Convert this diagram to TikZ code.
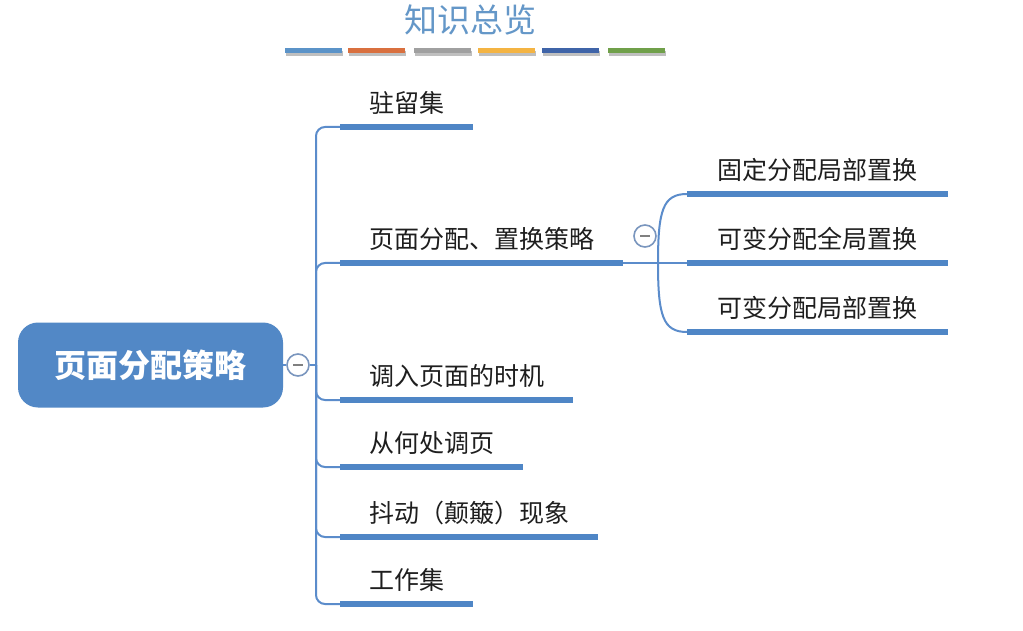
\documentclass[tikz,border=0pt]{standalone}
\usepackage{fontspec}
\setmainfont{Noto Sans CJK SC}
\usetikzlibrary{shadows}
\definecolor{lineblue}{HTML}{5B8CCB}
\definecolor{barblue}{HTML}{4F86C6}
\definecolor{rootblue}{HTML}{5288C6}
\definecolor{titleblue}{HTML}{6497C8}
\definecolor{cbBlue}{HTML}{5B93C8}
\definecolor{cbOrange}{HTML}{D9703F}
\definecolor{cbGray}{HTML}{A0A0A0}
\definecolor{cbYellow}{HTML}{F4B443}
\definecolor{cbDark}{HTML}{3F64A8}
\definecolor{cbGreen}{HTML}{70A04A}
\definecolor{togline}{HTML}{7A96BE}
\definecolor{txtcol}{HTML}{1E1E1E}
\tikzset{
  txt/.style={font=\fontsize{25}{30}\selectfont, text=txtcol, anchor=south west,
    inner xsep=29pt, inner ysep=14pt, text height=22pt, text depth=0pt},
  bar/.style={draw=barblue, line width=6.5pt},
  conn/.style={draw=lineblue, line width=2pt},
  tog/.style={circle, draw=togline, fill=white, minimum size=22pt, inner sep=0pt, line width=1.6pt},
  colbar/.style={minimum width=57pt, minimum height=5pt, inner sep=0pt,
    drop shadow={shadow xshift=1pt, shadow yshift=-3pt, opacity=0.25, fill=black}},
  rootbox/.style={rounded corners=20pt, fill=rootblue, minimum width=265pt, minimum height=85pt,
    text=white, font=\fontsize{32}{36}\selectfont\bfseries}
}
\begin{document}
\begin{tikzpicture}[x=1pt,y=-1pt]
\fill[white] (0,0) rectangle (1023,631);
\useasboundingbox (0,0) rectangle (1023,631);

% title
\node[font=\fontsize{33}{38}\selectfont, text=titleblue] (title) at (470,20) {知识总览};
\node[colbar, fill=cbBlue]   (cb1) at (313.5,50.5) {};
\node[colbar, fill=cbOrange] (cb2) at (376.5,50.5) {};
\node[colbar, fill=cbGray]   (cb3) at (442.5,50.5) {};
\node[colbar, fill=cbYellow] (cb4) at (506,50.5) {};
\node[colbar, fill=cbDark]   (cb5) at (570.5,50.5) {};
\node[colbar, fill=cbGreen]  (cb6) at (636,50.5) {};

% root
\node[rootbox] (root) at (150.5,365) {页面分配策略};
\node[tog] (t1) at (298,365) {\color{gray}\rule{10pt}{1.8pt}};
\coordinate (trunk) at (316,365);

% children
\node[txt] (c1) at (340,127) {驻留集};
\node[txt] (c2) at (340,263) {页面分配、置换策略};
\node[txt] (c3) at (340,400) {调入页面的时机};
\node[txt] (c4) at (340,467) {从何处调页};
\node[txt] (c5) at (340,537) {抖动（颠簸）现象};
\node[txt] (c6) at (340,604) {工作集};

\draw[conn] (root.east) -- (t1.west);
\draw[conn] (t1.east) -- (trunk);
\foreach \n in {c1,c2,c3,c4,c5,c6}{
  \draw[conn, rounded corners=9pt] (trunk) |- (\n.south west);
  \draw[bar] (\n.south west) -- (\n.south east);
}

% sub children
\node[txt, inner xsep=30pt] (s1) at (687,194) {固定分配局部置换};
\node[txt, inner xsep=30pt] (s2) at (687,263) {可变分配全局置换};
\node[txt, inner xsep=30pt] (s3) at (687,332) {可变分配局部置换};
\node[tog] (t2) at (645,236) {\color{gray}\rule{10pt}{1.8pt}};
\coordinate (split) at (658,263);

\draw[conn] (c2.south east) -- (split);
\draw[conn] (split) -- (s2.south west);
\draw[conn] (split) .. controls (658,210) and (663,194) .. (s1.south west);
\draw[conn] (split) .. controls (658,316) and (663,332) .. (s3.south west);
\foreach \n in {s1,s2,s3}{
  \draw[bar] (\n.south west) -- ([xshift=1pt]\n.south east);
}
\end{tikzpicture}
\end{document}
